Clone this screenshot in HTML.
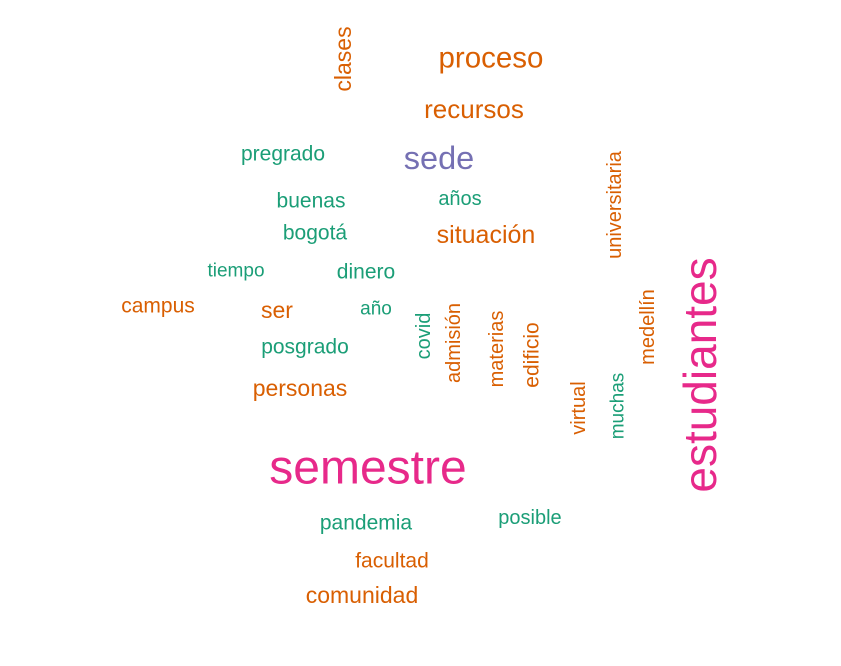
<!DOCTYPE html>
<html><head><meta charset="utf-8"><style>
html,body{margin:0;padding:0;background:#fff}
svg text{font-family:"Liberation Sans",sans-serif}
</style></head><body>
<svg id="cloud" width="841" height="661" xmlns="http://www.w3.org/2000/svg"></svg>
<script>
const words=["clases","proceso","recursos","sede","pregrado","universitaria","buenas","años","bogotá","situación","tiempo","dinero","estudiantes","campus","ser","año","medellín","covid","admisión","materias","edificio","posgrado","personas","virtual","muchas","semestre","pandemia","posible","facultad","comunidad"];
const sizes=[23,29.5,26,32.5,21,20,21,20,21,25,19,21,46,21,23,19,20,20,20,20,21,21,23,20,19,48,21,20,21,23];
const colorGroup=[1,1,1,2,0,1,0,0,0,1,0,0,3,1,1,0,1,0,1,1,1,0,1,1,0,3,0,0,1,1];
const palette=["#1B9E77","#D95F02","#7570B3","#E7298A"];
const layout=[[343,59,1],[491,58,0],[474,109,0],[439,158,0],[283,154,0],[615,205,1],[311,201,0],[460,199,0],[315,233,0],[486,235,0],[236,271,0],[366,272,0],[700,375,1],[158,306,0],[277,310,0],[376,309,0],[648,327,1],[424,336,1],[454,343,1],[497,349,1],[532,355,1],[305,347,0],[300,388,0],[579,408,1],[618,406,1],[368,468,0],[366,523,0],[530,518,0],[392,561,0],[362,595,0]];
const svg=document.getElementById('cloud');
words.forEach((w,i)=>{
  const t=document.createElementNS('http://www.w3.org/2000/svg','text');
  const [x,y,r]=layout[i];
  t.setAttribute('x',x);t.setAttribute('y',y);
  t.setAttribute('text-anchor','middle');
  t.setAttribute('dominant-baseline','central');
  t.setAttribute('font-size',sizes[i]);
  t.setAttribute('fill',palette[colorGroup[i]]);
  if(r)t.setAttribute('transform','rotate(-90 '+x+' '+y+')');
  
  
  t.textContent=w;
  svg.appendChild(t);
});
</script>
</body></html>
